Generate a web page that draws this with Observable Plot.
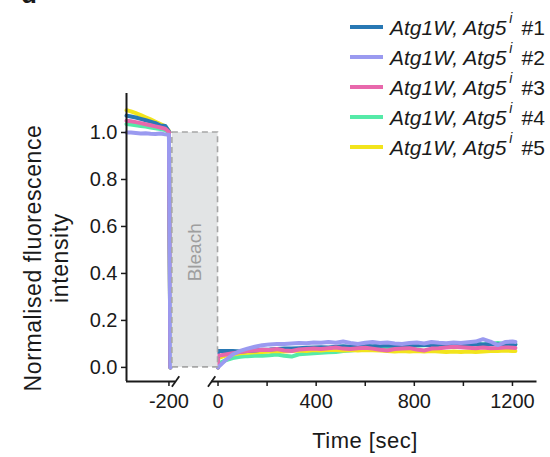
<!DOCTYPE html>
<html>
<head>
<meta charset="utf-8">
<script src="https://cdn.jsdelivr.net/npm/d3@7"></script>
<script src="https://cdn.jsdelivr.net/npm/@observablehq/plot@0.6"></script>
<style>
  html, body { margin: 0; padding: 0; background: #fff; overflow: hidden; }
  #wrap { position: relative; width: 550px; height: 457px; font-family: "Liberation Sans", Arial, Helvetica, sans-serif; color: #1a1a1a; }
  #wrap svg { position: absolute; left: 0; top: 0; }
  .ov { position: absolute; white-space: nowrap; }
  .leg-row { position: absolute; left: 350px; height: 30px; display: flex; align-items: center; font-size: 21px; }
  .leg-line { width: 33px; height: 4px; margin-right: 7px; }
  .leg-row sup { font-size: 14px; font-style: italic; position: relative; top: -4px; margin-left: 3px; margin-right: 9px; }
</style>
</head>
<body>
<div id="wrap"></div>
<script>
// ---- data ----
const seriesNames = ["#1", "#2", "#3", "#4", "#5"];
const seriesColors = ["#2878b4", "#9a9af0", "#e868ac", "#55eaa8", "#f2e41c"];
const drawOrder = ["#4", "#5", "#1", "#3", "#2"];

// pre-bleach times (sec); last point is the bleach drop
const preTimes = [-373, -355, -335, -315, -295, -275, -255, -235, -215, -200, -194];
const pre1 = [1.072, 1.068, 1.064, 1.058, 1.052, 1.046, 1.040, 1.030, 1.028, 1.005, 0];
const pre2 = [1.000, 1.000, 0.998, 0.996, 0.997, 0.995, 0.994, 0.996, 0.992, 0.990, 0];
const pre3 = [1.050, 1.048, 1.044, 1.040, 1.035, 1.031, 1.026, 1.021, 1.016, 1.002, 0];
const pre4 = [1.036, 1.034, 1.031, 1.028, 1.025, 1.021, 1.018, 1.015, 1.010, 1.000, 0];
const pre5 = [1.095, 1.090, 1.082, 1.074, 1.065, 1.056, 1.046, 1.036, 1.026, 1.006, 0];

// post-bleach times (sec); first point is the bleached level at t = 0
const postTimes = [0, 0, 30, 60, 90, 120, 150, 180, 210, 240, 270, 300, 330, 360, 390, 420, 450, 480, 510, 540, 570,
  600, 630, 660, 690, 720, 750, 780, 810, 840, 870, 900, 930, 960, 990, 1020, 1050, 1080, 1110, 1140, 1170, 1200, 1212];
const post1 = [0, 0.070, 0.070, 0.070, 0.068, 0.070, 0.072, 0.075, 0.076, 0.078, 0.080, 0.080, 0.082, 0.084, 0.085, 0.086,
  0.085, 0.088, 0.090, 0.088, 0.090, 0.092, 0.090, 0.092, 0.094, 0.092, 0.094, 0.096, 0.095, 0.096, 0.094, 0.096,
  0.098, 0.097, 0.096, 0.098, 0.100, 0.098, 0.100, 0.098, 0.100, 0.098, 0.097];
const post2 = [0, 0.000, 0.030, 0.055, 0.070, 0.080, 0.088, 0.094, 0.098, 0.100, 0.100, 0.102, 0.104, 0.103, 0.106, 0.105,
  0.108, 0.105, 0.110, 0.104, 0.100, 0.105, 0.108, 0.104, 0.106, 0.102, 0.100, 0.104, 0.106, 0.102, 0.108, 0.105,
  0.103, 0.106, 0.104, 0.107, 0.110, 0.120, 0.110, 0.095, 0.108, 0.110, 0.108];
const post3 = [0, 0.050, 0.055, 0.060, 0.065, 0.070, 0.072, 0.075, 0.074, 0.078, 0.072, 0.070, 0.076, 0.078, 0.080, 0.078,
  0.082, 0.085, 0.080, 0.078, 0.082, 0.084, 0.080, 0.075, 0.072, 0.078, 0.080, 0.082, 0.076, 0.072, 0.080, 0.082,
  0.085, 0.088, 0.086, 0.084, 0.082, 0.085, 0.082, 0.083, 0.085, 0.084, 0.083];
const post4 = [0, 0.015, 0.030, 0.040, 0.045, 0.048, 0.050, 0.050, 0.052, 0.055, 0.050, 0.046, 0.056, 0.058, 0.060, 0.062,
  0.064, 0.066, 0.070, 0.072, 0.075, 0.078, 0.080, 0.082, 0.085, 0.088, 0.090, 0.090, 0.092, 0.094, 0.095, 0.096,
  0.095, 0.097, 0.098, 0.096, 0.100, 0.098, 0.100, 0.104, 0.100, 0.100, 0.099];
const post5 = [0, 0.040, 0.050, 0.055, 0.060, 0.062, 0.065, 0.066, 0.068, 0.070, 0.068, 0.070, 0.072, 0.070, 0.074, 0.072,
  0.075, 0.074, 0.072, 0.074, 0.072, 0.074, 0.073, 0.072, 0.070, 0.068, 0.070, 0.068, 0.070, 0.068, 0.070, 0.068,
  0.066, 0.068, 0.066, 0.068, 0.066, 0.068, 0.070, 0.070, 0.072, 0.070, 0.070];

const preValues = [pre1, pre2, pre3, pre4, pre5];
const postValues = [post1, post2, post3, post4, post5];

// bleach window and axis layout values
const bleach = {start: -186, end: 0, low: 0, high: 1, label: "Bleach"};
const xDomain = [-373, 1300];
const yDomain = [-0.06, 1.166];
const xTicks = [-200, 0, 200, 400, 600, 800, 1000, 1200];
const xTickLabels = ["-200", "0", "", "400", "", "800", "", "1200"];
const yTicks = [0, 0.2, 0.4, 0.6, 0.8, 1.0];
const axisBreaks = [-173, -26];
const xAxisSegments = [{x1: -373, x2: -173}, {x1: -26, x2: 1300}];

// ---- build table ----
const rows = [];
seriesNames.forEach((name, i) => {
  preTimes.forEach((t, j) => rows.push({series: name, seg: name + "|pre", t, v: preValues[i][j]}));
  postTimes.forEach((t, j) => rows.push({series: name, seg: name + "|post", t, v: postValues[i][j]}));
});
rows.sort((a, b) => drawOrder.indexOf(a.series) - drawOrder.indexOf(b.series));

const font = '"Liberation Sans", Arial, Helvetica, sans-serif';

const chart = Plot.plot({
  width: 550,
  height: 457,
  marginTop: 93,
  marginBottom: 76,
  marginLeft: 126,
  marginRight: 13.5,
  x: {domain: xDomain},
  y: {domain: yDomain},
  color: {domain: seriesNames, range: seriesColors},
  style: {fontFamily: font, fontSize: "20px", color: "#1a1a1a", background: "transparent", overflow: "visible"},
  marks: [
    Plot.line(rows, {x: "t", y: "v", z: "seg", stroke: "series", strokeWidth: 4, curve: "linear", strokeLinejoin: "round"}),
    Plot.rect([bleach], {x1: "start", x2: "end", y1: "low", y2: "high", fill: "#e2e4e5", stroke: "#a6a6a6", strokeWidth: 1.6, strokeDasharray: "6,4"}),
    Plot.text([bleach], {x: d => (d.start + d.end) / 2, y: d => (d.low + d.high) * 0.49, text: "label", rotate: -90, fill: "#9e9e9e", fontSize: 19}),
    // axis lines
    Plot.ruleX([xDomain[0]], {y1: yDomain[0], y2: yDomain[1], stroke: "#1a1a1a", strokeWidth: 2}),
    Plot.ruleY(xAxisSegments, {x1: "x1", x2: "x2", y: yDomain[0], stroke: "#1a1a1a", strokeWidth: 1.8}),
    Plot.link(axisBreaks, {x1: d => d - 15, x2: d => d + 15, y1: yDomain[0] - 0.022, y2: yDomain[0] + 0.022, stroke: "#1a1a1a", strokeWidth: 1.8}),
    Plot.axisX({ticks: xTicks, tickFormat: d => xTickLabels[xTicks.indexOf(d)], tickSize: 5, tickPadding: 7, label: null, fontSize: 20, strokeWidth: 1.5}),
    Plot.axisY({ticks: yTicks, tickFormat: d3.format(".1f"), tickSize: 5, tickPadding: 4, label: null, fontSize: 20, strokeWidth: 1.5})
  ]
});

const wrap = document.getElementById("wrap");
wrap.appendChild(chart);

// panel letter (clipped at the top, as in the reference)
const letter = document.createElement("div");
letter.className = "ov";
letter.textContent = "d";
letter.style.cssText = "left:21px;top:-19px;font-size:26px;line-height:26px;font-weight:bold;";
wrap.appendChild(letter);

// y-axis title
const yTitle = document.createElement("div");
yTitle.className = "ov";
yTitle.innerHTML = "Normalised fluorescence<br>intensity";
yTitle.style.cssText = "left:-103.5px;top:231px;width:300px;height:54px;line-height:27px;text-align:center;font-size:23px;letter-spacing:0.6px;transform:rotate(-90deg);transform-origin:center;";
wrap.appendChild(yTitle);

// x-axis title
const xTitle = document.createElement("div");
xTitle.className = "ov";
xTitle.textContent = "Time [sec]";
xTitle.style.cssText = "left:265px;top:428px;width:200px;line-height:26px;text-align:center;font-size:22px;letter-spacing:0.5px;";
wrap.appendChild(xTitle);

// legend
seriesNames.forEach((name, i) => {
  const row = document.createElement("div");
  row.className = "leg-row";
  row.style.top = (12 + i * 30) + "px";
  const ln = document.createElement("span");
  ln.className = "leg-line";
  ln.style.background = seriesColors[i];
  const tx = document.createElement("span");
  tx.innerHTML = "<i>Atg1W, Atg5</i><sup>i</sup>" + name;
  row.appendChild(ln);
  row.appendChild(tx);
  wrap.appendChild(row);
});
</script>
</body>
</html>
